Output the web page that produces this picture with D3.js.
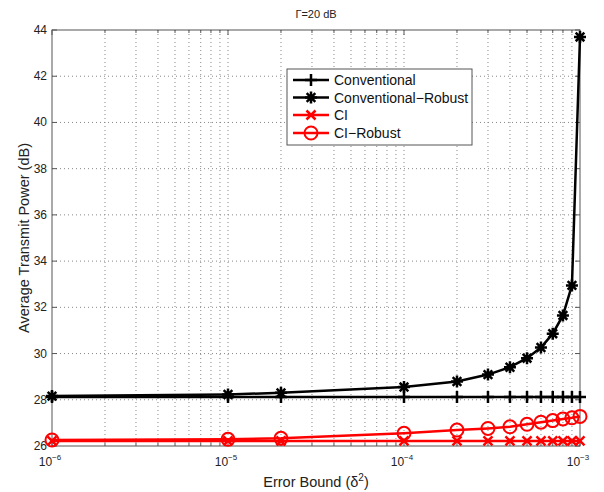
<!DOCTYPE html>
<html><head><meta charset="utf-8">
<script src="https://cdn.jsdelivr.net/npm/d3@7"></script>
<style>body{margin:0;background:#fff}svg{font-family:"Liberation Sans",Arial,sans-serif}</style>
</head><body>
<svg id="c" width="604" height="492"></svg>
<script>
const xVals = [1e-6, 1e-5, 2e-5, 1e-4, 2e-4, 3e-4, 4e-4, 5e-4, 6e-4, 7e-4, 8e-4, 9e-4, 1e-3];
const conventional = [28.12, 28.12, 28.12, 28.12, 28.12, 28.12, 28.12, 28.12, 28.12, 28.12, 28.12, 28.12, 28.12];
const conventionalRobust = [28.16, 28.23, 28.3, 28.55, 28.79, 29.09, 29.41, 29.8, 30.26, 30.86, 31.65, 32.95, 43.7];
const ci = [26.22, 26.22, 26.22, 26.22, 26.22, 26.22, 26.22, 26.22, 26.22, 26.22, 26.22, 26.22, 26.22];
const ciRobust = [26.26, 26.29, 26.33, 26.55, 26.69, 26.76, 26.83, 26.94, 27.03, 27.1, 27.17, 27.22, 27.28];
const seriesNames = ["Conventional", "Conventional\u2212Robust", "CI", "CI\u2212Robust"];
const yTicks = [26, 28, 30, 32, 34, 36, 38, 40, 42, 44];
const xTicks = [1e-6, 1e-5, 1e-4, 1e-3];
const xTickExp = ["\u22126", "\u22125", "\u22124", "\u22123"];
const titleText = "\u0393=20 dB";
const xLabel = "Error Bound (\u03B4";
const yLabel = "Average Transmit Power (dB)";

const L = 52, R = 580, T = 30, B = 446;
const svg = d3.select("#c");
const x = d3.scaleLog().domain([1e-6, 1e-3]).range([L, R]);
const y = d3.scaleLinear().domain([26, 44]).range([B, T]);

const xMinor = [];
for (let e = -6; e < -3; e++) for (let m = 1; m <= 9; m++) xMinor.push(m * Math.pow(10, e));
xMinor.push(1e-3);

const grid = svg.append("g");
xMinor.forEach(v => {
  if (v === 1e-6 || v === 1e-3) return;
  grid.append("line").attr("x1", x(v)).attr("x2", x(v)).attr("y1", T).attr("y2", B)
    .attr("stroke", "#888").attr("stroke-width", 1).attr("stroke-dasharray", "1,3");
});
yTicks.forEach(v => {
  if (v === 26 || v === 44) return;
  grid.append("line").attr("x1", L).attr("x2", R).attr("y1", y(v)).attr("y2", y(v))
    .attr("stroke", "#888").attr("stroke-width", 1).attr("stroke-dasharray", "1,3");
});

svg.append("rect").attr("x", L).attr("y", T).attr("width", R - L).attr("height", B - T)
  .attr("fill", "none").attr("stroke", "#555").attr("stroke-width", 1);

const tk = svg.append("g").attr("stroke", "#555");
yTicks.forEach(v => {
  tk.append("line").attr("x1", L).attr("x2", L + 5).attr("y1", y(v)).attr("y2", y(v));
  tk.append("line").attr("x1", R).attr("x2", R - 5).attr("y1", y(v)).attr("y2", y(v));
});
xMinor.forEach(v => {
  const len = xTicks.includes(v) ? 5 : 3;
  tk.append("line").attr("x1", x(v)).attr("x2", x(v)).attr("y1", B).attr("y2", B - len);
  tk.append("line").attr("x1", x(v)).attr("x2", x(v)).attr("y1", T).attr("y2", T + len);
});

yTicks.forEach(v => {
  svg.append("text").attr("x", L - 5).attr("y", y(v) + 4).attr("text-anchor", "end")
    .attr("font-size", 12).attr("fill", "#222").text(v);
});
xTicks.forEach((v, i) => {
  const t = svg.append("text").attr("x", x(v) - 2).attr("y", B + 20).attr("text-anchor", "middle")
    .attr("font-size", 12).attr("fill", "#222");
  t.append("tspan").text("10");
  t.append("tspan").attr("dy", -6).attr("font-size", 8).text(xTickExp[i]);
});

svg.append("text").attr("x", (L + R) / 2).attr("y", 18).attr("text-anchor", "middle")
  .attr("font-size", 11).attr("fill", "#222").text(titleText);
const xl = svg.append("text").attr("x", (L + R) / 2).attr("y", 487).attr("text-anchor", "middle")
  .attr("font-size", 14.5).attr("fill", "#222");
xl.append("tspan").text(xLabel);
xl.append("tspan").attr("dy", -6).attr("font-size", 10).text("2");
xl.append("tspan").attr("dy", 6).text(")");
svg.append("text").attr("transform", `translate(29,${(T + B) / 2}) rotate(-90)`).attr("text-anchor", "middle")
  .attr("font-size", 14.5).attr("fill", "#222").text(yLabel);

function marker(g, type, cx, cy, color) {
  const s = 6;
  if (type === "plus") {
    g.append("path").attr("d", `M${cx - s},${cy}H${cx + s}M${cx},${cy - s}V${cy + s}`)
      .attr("stroke", color).attr("stroke-width", 2.5).attr("fill", "none");
  } else if (type === "star") {
    const d = s * 0.72;
    g.append("path").attr("d", `M${cx - s},${cy}H${cx + s}M${cx},${cy - s}V${cy + s}M${cx - d},${cy - d}L${cx + d},${cy + d}M${cx - d},${cy + d}L${cx + d},${cy - d}`)
      .attr("stroke", color).attr("stroke-width", 2.5).attr("fill", "none");
  } else if (type === "x") {
    const d = 4.5;
    g.append("path").attr("d", `M${cx - d},${cy - d}L${cx + d},${cy + d}M${cx - d},${cy + d}L${cx + d},${cy - d}`)
      .attr("stroke", color).attr("stroke-width", 2.5).attr("fill", "none");
  } else if (type === "circle") {
    g.append("circle").attr("cx", cx).attr("cy", cy).attr("r", 6.5)
      .attr("stroke", color).attr("stroke-width", 2).attr("fill", "none");
  }
}

const series = [
  { vals: conventional, color: "#000", m: "plus", w: 2.5 },
  { vals: conventionalRobust, color: "#000", m: "star", w: 2.5 },
  { vals: ci, color: "#ff0000", m: "x", w: 2.5 },
  { vals: ciRobust, color: "#ff0000", m: "circle", w: 2.5 }
];
const line = d3.line().x(d => x(d[0])).y(d => y(d[1]));
series.forEach(s => {
  const pts = xVals.map((v, i) => [v, s.vals[i]]);
  const g = svg.append("g");
  g.append("path").attr("d", line(pts)).attr("fill", "none").attr("stroke", s.color).attr("stroke-width", s.w);
  pts.forEach(p => marker(g, s.m, x(p[0]), y(p[1]), s.color));
});

const lg = svg.append("g");
lg.append("rect").attr("x", 287).attr("y", 69).attr("width", 185).attr("height", 76)
  .attr("fill", "#fff").attr("stroke", "#555").attr("stroke-width", 1);
const rowsY = [80, 97.5, 115, 133];
series.forEach((s, i) => {
  const yy = rowsY[i];
  lg.append("line").attr("x1", 293).attr("x2", 329).attr("y1", yy).attr("y2", yy)
    .attr("stroke", s.color).attr("stroke-width", s.w);
  marker(lg, s.m, 311, yy, s.color);
  lg.append("text").attr("x", 334).attr("y", yy + 5).attr("font-size", 14).attr("fill", "#111").text(seriesNames[i]);
});
</script>
</body></html>
